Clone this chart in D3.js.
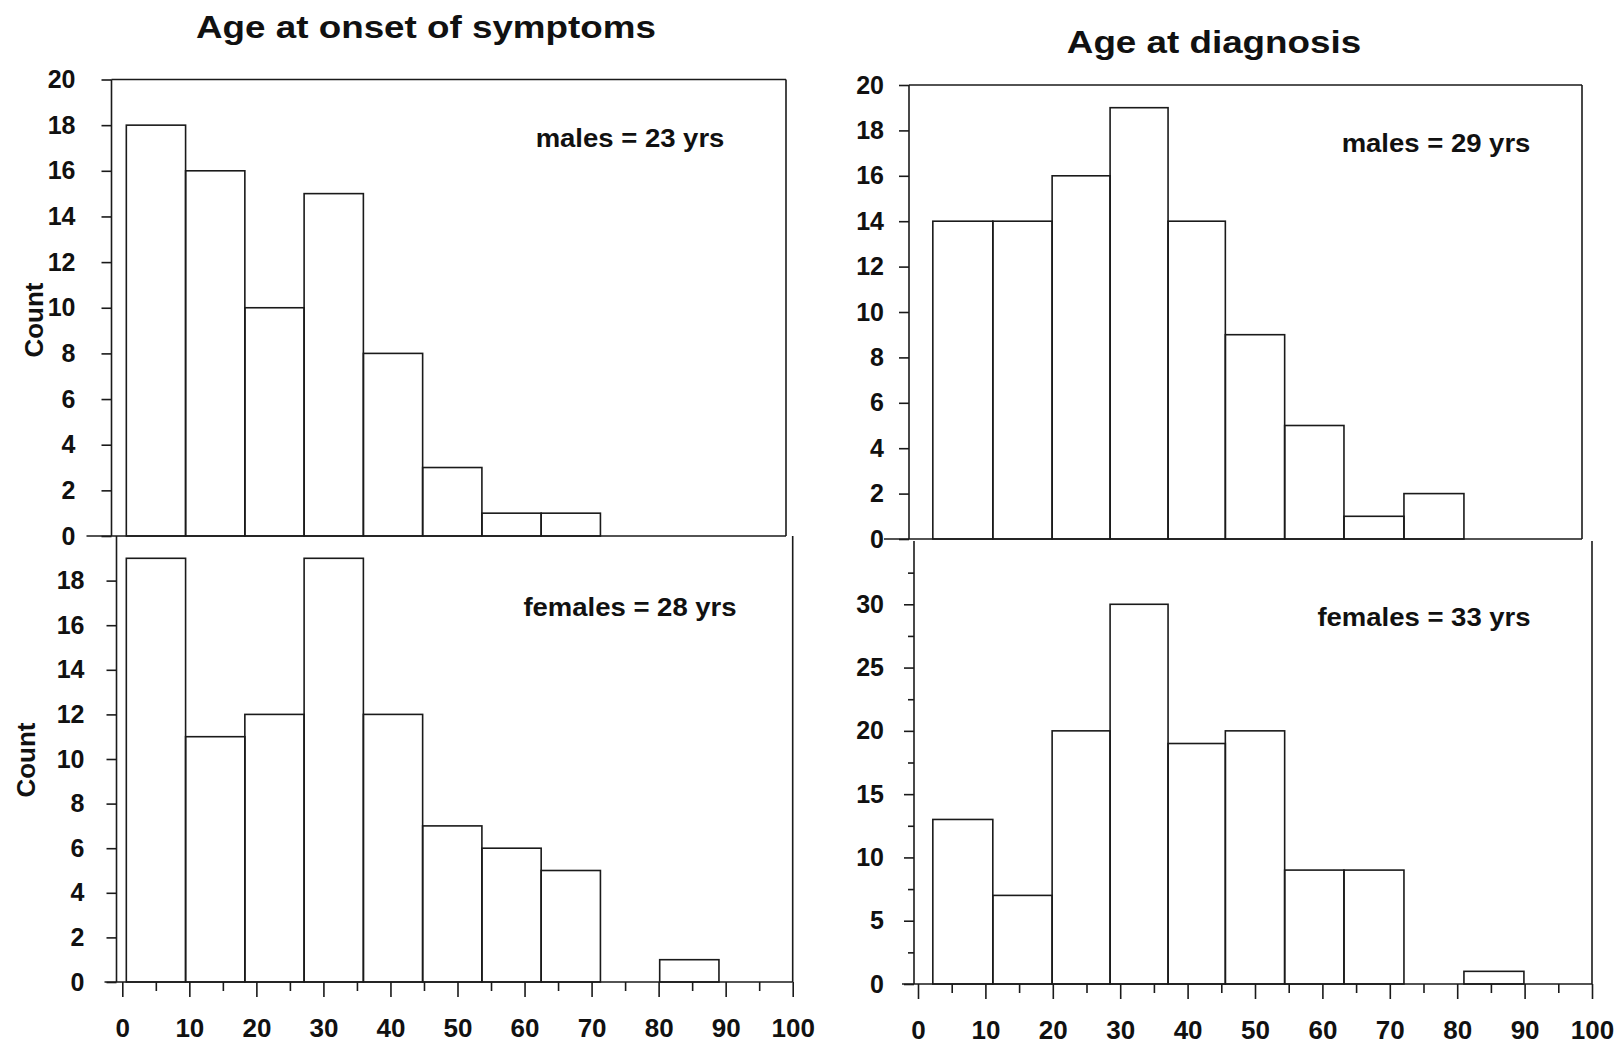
<!DOCTYPE html>
<html>
<head>
<meta charset="utf-8">
<script src="https://cdn.jsdelivr.net/npm/d3@7.9.0/dist/d3.min.js"></script>
<style>
  body { margin: 0; background: #fff; }
  svg { display: block; font-family: "Liberation Sans", Arial, sans-serif; }
  .tick text { font-weight: bold; fill: #111; }
  .tick line, .frame, .bar { stroke: #1a1a1a; stroke-width: 1.6; }
</style>
</head>
<body>
<script>
// Age bins (years)
const onsetEdges = [0.6, 9.44, 18.28, 27.12, 35.96, 44.8, 53.64, 62.48, 71.32, 80.16, 89.0];
const diagEdges = [2.2, 11.1, 19.9, 28.5, 37.1, 45.6, 54.4, 63.2, 72.1, 81.0, 89.9];

// Counts per bin
const onsetMales = [18, 16, 10, 15, 8, 3, 1, 1];
const onsetFemales = [19, 11, 12, 19, 12, 7, 6, 5, 0, 1];
const diagMales = [14, 14, 16, 19, 14, 9, 5, 1, 2];
const diagFemales = [13, 7, 20, 30, 19, 20, 9, 9, 0, 1];

// Tick labels
const ageTicks = [0, 10, 20, 30, 40, 50, 60, 70, 80, 90, 100];
const ageMinorTicks = [5, 15, 25, 35, 45, 55, 65, 75, 85, 95];
const countTicks20 = [0, 2, 4, 6, 8, 10, 12, 14, 16, 18, 20];
const countTicks18 = [0, 2, 4, 6, 8, 10, 12, 14, 16, 18];
const countTicks30 = [0, 5, 10, 15, 20, 25, 30];
const countMinor30 = [2.5, 7.5, 12.5, 17.5, 22.5, 27.5, 32.5];

const titles = ['Age at onset of symptoms', 'Age at diagnosis'];
const notes = ['males = 23 yrs', 'females = 28 yrs', 'males = 29 yrs', 'females = 33 yrs'];

const svg = d3.select('body').append('svg')
    .attr('width', 1616)
    .attr('height', 1045);

const leftX = d3.scaleLinear().domain([0, 100]).range([122.3, 792.7]);
const rightX = d3.scaleLinear().domain([0, 100]).range([918, 1592]);

const panels = [
    { x: leftX, edges: onsetEdges, counts: onsetMales, y: d3.scaleLinear().domain([0, 20]).range([536, 79.5]),
      axisX: 111.5, right: 786, ticks: countTicks20, pad: 26, top: true, note: notes[0], noteX: 630, noteY: 147, count: [34, 320] },
    { x: leftX, edges: onsetEdges, counts: onsetFemales, y: d3.scaleLinear().domain([0, 20]).range([982, 536]),
      axisX: 116.5, right: 792.7, ticks: countTicks18, pad: 22, top: false, note: notes[1], noteX: 630, noteY: 616, count: [26, 760] },
    { x: rightX, edges: diagEdges, counts: diagMales, y: d3.scaleLinear().domain([0, 20]).range([539, 85]),
      axisX: 909, right: 1582, ticks: countTicks20, pad: 15, top: true, note: notes[2], noteX: 1436, noteY: 152 },
    { x: rightX, edges: diagEdges, counts: diagFemales, y: d3.scaleLinear().domain([0, 35]).range([984, 541]),
      axisX: 914, right: 1592, ticks: countTicks30, minor: countMinor30, pad: 20, top: false, note: notes[3], noteX: 1424, noteY: 626 }
];

function line(g, x1, y1, x2, y2) {
    g.append('line').attr('class', 'frame')
        .attr('x1', x1).attr('y1', y1).attr('x2', x2).attr('y2', y2);
}

panels.forEach((p) => {
    const g = svg.append('g');
    const y0 = p.y(0);
    const yTop = p.y(p.y.domain()[1]);

    // Bars
    const bins = p.counts.map((c, i) => ({ x0: p.edges[i], x1: p.edges[i + 1], c }))
        .filter((d) => d.c > 0);
    g.selectAll('rect').data(bins).join('rect')
        .attr('class', 'bar')
        .attr('fill', 'none')
        .attr('x', (d) => p.x(d.x0))
        .attr('width', (d) => p.x(d.x1) - p.x(d.x0))
        .attr('y', (d) => p.y(d.c))
        .attr('height', (d) => y0 - p.y(d.c));

    // Y axis
    const yAxis = g.append('g')
        .attr('transform', `translate(${p.axisX},0)`)
        .call(d3.axisLeft(p.y).tickValues(p.ticks).tickSize(10).tickPadding(p.pad));
    yAxis.select('.domain').remove();
    yAxis.selectAll('text').attr('font-size', 25);
    if (p.minor) {
        const m = g.append('g')
            .attr('transform', `translate(${p.axisX},0)`)
            .call(d3.axisLeft(p.y).tickValues(p.minor).tickSize(6).tickFormat(''));
        m.select('.domain').remove();
    }
    line(g, p.axisX, yTop, p.axisX, y0);

    // Frame and baseline
    line(g, p.right, yTop, p.right, y0);
    if (p.top) line(g, p.axisX, yTop, p.right, yTop);
    line(g, p.axisX - (p.top ? 25 : 12), y0, p.right, y0);

    // X axis on the lower panels
    if (!p.top) {
        const xAxis = g.append('g')
            .attr('transform', `translate(0,${y0})`)
            .call(d3.axisBottom(p.x).tickValues(ageTicks).tickSize(15).tickPadding(22));
        xAxis.select('.domain').remove();
        xAxis.selectAll('text').attr('font-size', 26);
        const xm = g.append('g')
            .attr('transform', `translate(0,${y0})`)
            .call(d3.axisBottom(p.x).tickValues(ageMinorTicks).tickSize(9).tickFormat(''));
        xm.select('.domain').remove();
    }

    // Mean age note
    g.append('text')
        .attr('transform', `translate(${p.noteX},${p.noteY}) scale(1.1,1)`)
        .attr('text-anchor', 'middle')
        .attr('font-size', 25)
        .attr('font-weight', 'bold')
        .attr('fill', '#111')
        .text(p.note);

    if (p.count) {
        g.append('text')
            .attr('transform', `translate(${p.count[0] + 9},${p.count[1]}) rotate(-90)`)
            .attr('text-anchor', 'middle')
            .attr('font-size', 26)
            .attr('font-weight', 'bold')
            .attr('fill', '#111')
            .text('Count');
    }
});

// Column titles
[[426, 38], [1214, 53]].forEach(([cx, cy], i) => {
    svg.append('text')
        .attr('transform', `translate(${cx},${cy}) scale(1.15,1)`)
        .attr('text-anchor', 'middle')
        .attr('font-size', 32)
        .attr('font-weight', 'bold')
        .attr('fill', '#111')
        .text(titles[i]);
});
</script>
</body>
</html>
